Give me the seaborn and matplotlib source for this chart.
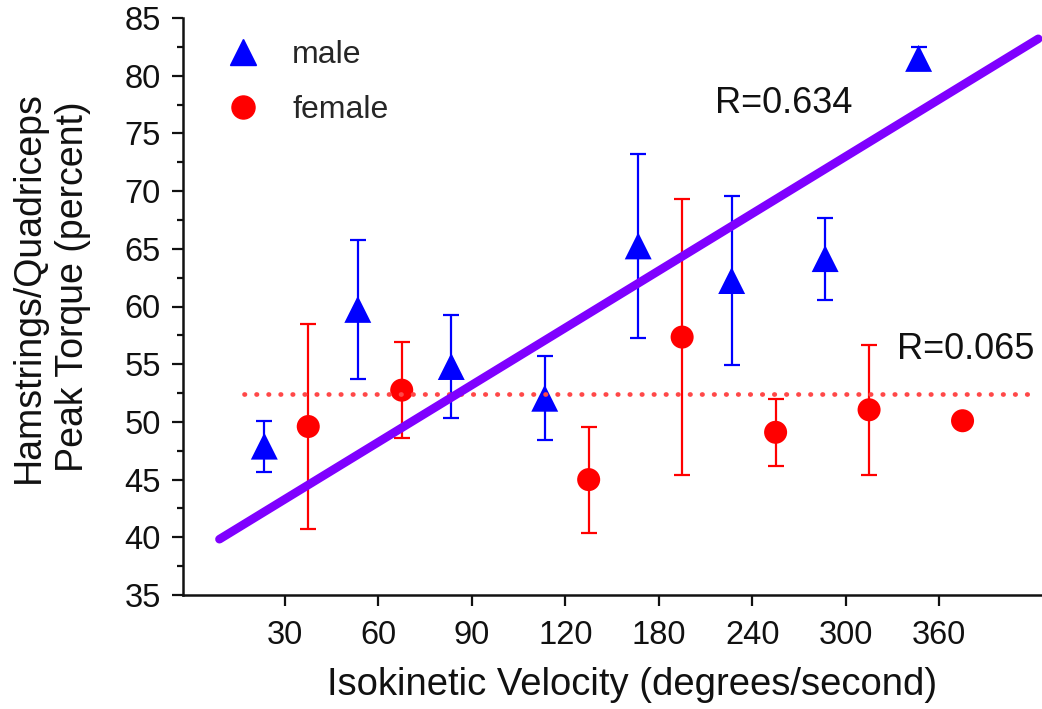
import numpy as np
import pandas as pd
import matplotlib
matplotlib.use('Agg')
import matplotlib.pyplot as plt
from matplotlib.lines import Line2D
import seaborn as sns

# velocities (categorical axis, equally spaced)
velocities = ['30', '60', '90', '120', '180', '240', '300', '360']

# male: mean and error (percent)
male_mean = [47.9, 59.75, 54.8, 52.05, 65.25, 62.25, 64.15, 81.5]
male_err = [2.2, 6.05, 4.5, 3.65, 7.95, 7.35, 3.55, 1.0]

# female: no value at 90
female_mean = [49.6, 52.75, np.nan, 45.0, 57.35, 49.1, 51.05, 50.1]
female_err = [8.9, 4.15, np.nan, 4.6, 11.95, 2.9, 5.65, 0.0]

# fitted lines (value at first category, change per category step)
male_fit_intercept = 43.3
male_fit_slope = 4.95
female_fit_level = 52.4
male_r = 'R=0.634'
female_r = 'R=0.065'

BLUE = '#0000ff'
RED = '#ff0000'
PURPLE = '#7f00ff'
INK = '#111111'

sns.set_style('ticks')
plt.rcParams['font.family'] = ['Liberation Sans', 'DejaVu Sans']

idx = np.arange(len(velocities))
df = pd.concat([
    pd.DataFrame({'pos': idx - 0.22, 'value': male_mean, 'err': male_err, 'sex': 'male'}),
    pd.DataFrame({'pos': idx + 0.25, 'value': female_mean, 'err': female_err, 'sex': 'female'}),
]).dropna()

fig = plt.figure(figsize=(10.42, 7.09), dpi=100)
ax = fig.add_axes([183 / 1042, 1 - 595 / 709, 859 / 1042, 577 / 709])

# error bars
for sex, color in [('male', BLUE), ('female', RED)]:
    sub = df[df['sex'] == sex]
    ax.errorbar(sub['pos'], sub['value'], yerr=sub['err'], fmt='none',
                ecolor=color, elinewidth=1.6, capsize=5.5, capthick=1.6, zorder=2)

sns.scatterplot(data=df, x='pos', y='value', hue='sex', style='sex', size='sex',
                palette={'male': BLUE, 'female': RED},
                markers={'male': '^', 'female': 'o'},
                sizes={'male': 376, 'female': 275},
                linewidth=0, legend=False, ax=ax, zorder=3)

# regression lines
xs = np.array([-0.7, 8.06])
ax.plot(xs, male_fit_intercept + male_fit_slope * xs, color=PURPLE, lw=6.2,
        solid_capstyle='round', zorder=5)
xf = np.array([-0.44, 8.06])
ax.plot(xf, [female_fit_level] * 2, color='#ff4848', lw=3.4,
        dashes=(0.1, 2.45), dash_capstyle='round', zorder=4)

ax.text(4.6, 77.6, male_r, fontsize=26, va='center', ha='left', color=INK)
ax.text(6.55, 56.3, female_r, fontsize=26, va='center', ha='left', color=INK)

ax.set_xlim(-1.09, 8.1)
ax.set_ylim(35, 85)
ax.set_xticks(idx)
ax.set_xticklabels(velocities)
ax.set_yticks(np.arange(35, 86, 5))
ax.set_yticks(np.arange(37.5, 85, 5), minor=True)
ax.tick_params(axis='both', which='major', labelsize=23.5, length=8, width=1.6,
               color=INK, labelcolor=INK)
ax.tick_params(axis='y', which='major', pad=8)
ax.tick_params(axis='x', which='major', pad=10)
ax.tick_params(axis='y', which='minor', length=4.5, width=1.6, color=INK)
for side in ['top', 'right']:
    ax.spines[side].set_visible(False)
for side in ['left', 'bottom']:
    ax.spines[side].set_linewidth(1.8)
    ax.spines[side].set_color(INK)

ax.set_xlabel('Isokinetic Velocity (degrees/second)', fontsize=27.5, color=INK)
ax.xaxis.set_label_coords(0.523, -0.125)
ax.set_ylabel('Hamstrings/Quadriceps\nPeak Torque (percent)', fontsize=27,
              color=INK, linespacing=1.3)
ax.yaxis.set_label_coords(-0.107, 0.534)

handles = [
    Line2D([], [], marker='^', color=BLUE, linestyle='none', markersize=19.4),
    Line2D([], [], marker='o', color=RED, linestyle='none', markersize=16.6),
]
ax.legend(handles, ['male', 'female'], loc='upper left',
          bbox_to_anchor=(0.044, 0.962), frameon=False, fontsize=23,
          handlelength=1.4, handletextpad=0.83, labelspacing=0.78,
          borderpad=0, borderaxespad=0)

fig.savefig('out.png', dpi=100)
